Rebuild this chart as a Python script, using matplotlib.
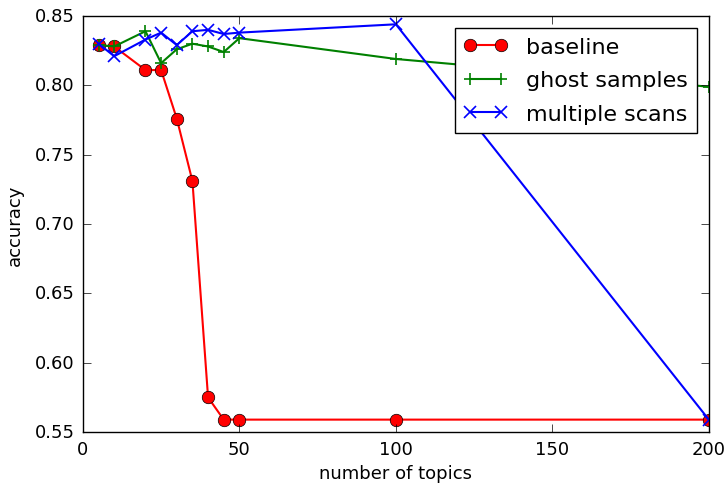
import matplotlib
matplotlib.use('Agg')
import matplotlib.pyplot as plt

plt.style.use('classic')

# number of topics
topics = [5, 10, 20, 25, 30, 35, 40, 45, 50, 100, 200]

baseline = [0.829, 0.828, 0.811, 0.811, 0.776, 0.731, 0.575, 0.559, 0.559, 0.559, 0.559]
ghost = [0.829, 0.828, 0.839, 0.816, 0.826, 0.830, 0.828, 0.824, 0.834, 0.819, 0.799]
scans = [0.830, 0.821, 0.833, 0.838, 0.829, 0.839, 0.840, 0.837, 0.838, 0.844, 0.559]

fig = plt.figure(figsize=(7.27, 4.85), dpi=100, facecolor='white')
ax = fig.add_axes([0.114, 0.107, 0.861, 0.858])

ax.plot(topics, baseline, 'r-o', lw=1.5, markersize=9, label='baseline')
ax.plot(topics, ghost, 'g-+', lw=1.5, markersize=9, mew=1.2, label='ghost samples')
ax.plot(topics, scans, 'b-x', lw=1.5, markersize=9, mew=1.2, label='multiple scans')

ax.set_xlim(0, 200)
ax.set_ylim(0.55, 0.85)
ax.tick_params(labelsize=13, length=6, pad=6)
ax.set_xlabel('number of topics', fontsize=13, labelpad=4)
ax.set_ylabel('accuracy', fontsize=13, labelpad=8)
ax.legend(loc='upper right', fontsize=16, borderaxespad=0.55, labelspacing=0.6)

fig.savefig('out.png', dpi=100, facecolor='white')
